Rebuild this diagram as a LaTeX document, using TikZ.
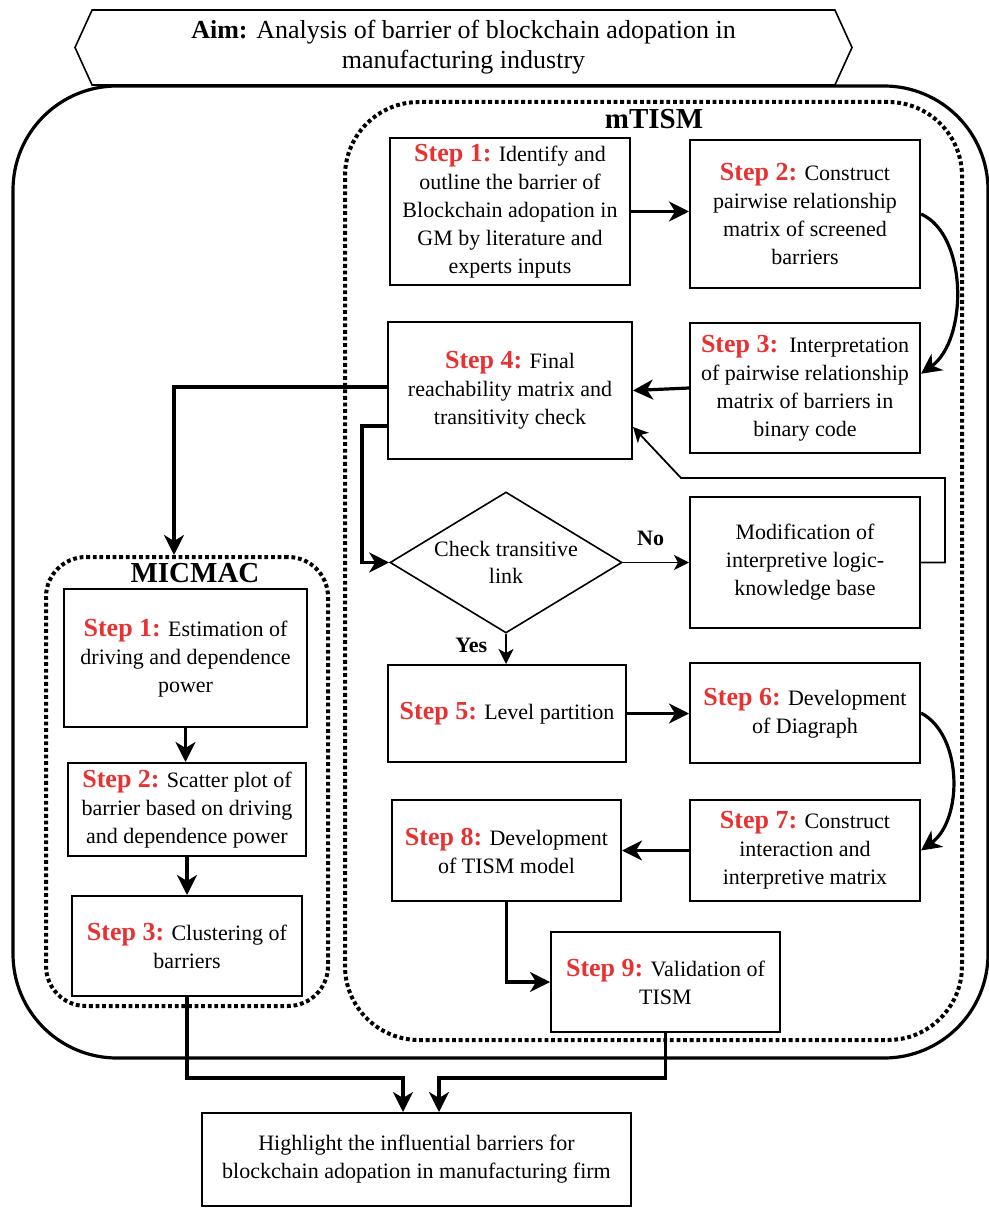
\documentclass[tikz,border=0pt]{standalone}
\usepackage{fontspec}
\setmainfont{Liberation Serif}
\usepackage{xcolor}
\usetikzlibrary{arrows.meta,calc,shapes.geometric,shapes.symbols}
\definecolor{stepred}{RGB}{232,50,50}
\tikzset{
  stepbox/.style={draw, line width=1pt, fill=white, align=center, inner sep=2pt,
    font=\fontsize{11}{14}\selectfont},
  checkbox/.style={diamond, draw, line width=0.8pt, fill=white, align=center,
    inner sep=0pt, aspect=1.65, font=\fontsize{11}{13.5}\selectfont},
  aimbox/.style={signal, signal to=west and east, signal pointer angle=131, draw,
    line width=0.8pt, fill=white, align=center, font=\fontsize{13}{15}\selectfont},
  groupframe/.style={draw, line width=2pt, dash pattern=on 1.9pt off 1.4pt},
  grouptitle/.style={font=\fontsize{14.5}{16}\selectfont\bfseries},
  outerframe/.style={line width=1.6pt, rounded corners=52pt},
  flow/.style={-{Stealth[length=10pt,width=10pt,inset=3pt]}, line width=1.6pt},
  thinflow/.style={-{Stealth[length=7.5pt,width=7.5pt,inset=2pt]}, line width=0.9pt},
  lbl/.style={font=\fontsize{11}{13}\selectfont\bfseries, inner sep=1pt}
}
\newcommand{\stepno}[1]{\textcolor{stepred}{\fontsize{13}{14}\selectfont\textbf{Step #1:}}}

\begin{document}
\begin{tikzpicture}[x=0.5pt, y=-0.5pt]
\useasboundingbox (0,0) rectangle (989,1209);

% frames
\draw[outerframe] (13,86) rectangle (988,1058);
\node[aimbox, minimum width=388.5pt, minimum height=37.5pt] (aim) at (463.5,47.5)
  {\textbf{Aim:} Analysis of barrier of blockchain adopation in\\ manufacturing industry};
\node[groupframe, rounded corners=37pt, minimum width=308.5pt, minimum height=469pt] (mtism) at (653.5,571) {};
\node[grouptitle] at (654,119) {mTISM};
\node[groupframe, rounded corners=20pt, minimum width=141pt, minimum height=224.5pt] (micmac) at (187,781.5) {};
\node[grouptitle] at (195,573) {MICMAC};

% mTISM steps
\node[stepbox, minimum width=120pt, minimum height=73.5pt] (s1) at (510,211.5)
  {\stepno{1} Identify and\\ outline the barrier of\\ Blockchain adopation in\\ GM by literature and\\ experts inputs};
\node[stepbox, minimum width=115pt, minimum height=74pt] (s2) at (805,214)
  {\stepno{2} Construct\\ pairwise relationship\\ matrix of screened\\ barriers};
\node[stepbox, minimum width=115pt, minimum height=65pt] (s3) at (805,388)
  {\stepno{3}\ \ Interpretation\\ of pairwise relationship\\ matrix of barriers in\\ binary code};
\node[stepbox, minimum width=122pt, minimum height=68.5pt] (s4) at (510,390.5)
  {\stepno{4} Final\\ reachability matrix and\\ transitivity check};
\node[checkbox, minimum width=116pt, minimum height=70.5pt] (chk) at (506,562.5)
  {Check transitive\\ link};
\node[stepbox, minimum width=115pt, minimum height=65.5pt] (mod) at (805,562.5)
  {Modification of\\ interpretive logic-\\ knowledge base};
\node[stepbox, minimum width=119pt, minimum height=48.5pt] (s5) at (507,713.5)
  {\stepno{5} Level partition};
\node[stepbox, minimum width=115pt, minimum height=50pt] (s6) at (805,713)
  {\stepno{6} Development\\ of Diagraph};
\node[stepbox, minimum width=115pt, minimum height=50.5pt] (s7) at (805,850.5)
  {\stepno{7} Construct\\ interaction and\\ interpretive matrix};
\node[stepbox, minimum width=114.5pt, minimum height=50.5pt] (s8) at (506.5,850.5)
  {\stepno{8} Development\\ of TISM model};
\node[stepbox, minimum width=114.5pt, minimum height=50pt] (s9) at (665.5,982)
  {\stepno{9} Validation of\\ TISM};

% MICMAC steps
\node[stepbox, minimum width=121.5pt, minimum height=69pt] (m1) at (185.5,658)
  {\stepno{1} Estimation of\\ driving and dependence\\ power};
\node[stepbox, minimum width=119pt, minimum height=46.5pt] (m2) at (187,809.5)
  {\stepno{2} Scatter plot of\\ barrier based on driving\\ and dependence power};
\node[stepbox, minimum width=115pt, minimum height=50pt] (m3) at (187,946)
  {\stepno{3} Clustering of\\ barriers};

% result
\node[stepbox, minimum width=214.5pt, minimum height=46.5pt] (final) at (416.5,1159.5)
  {Highlight the influential barriers for\\ blockchain adopation in manufacturing firm};
\coordinate (fbk) at (681,478);

% connectors
\draw[flow] (s1.east) -- (s1.east -| s2.west);
\draw[flow] (s2.east) .. controls (968,235) and (968,340) .. (s3.7);
\draw[flow] (s3.west) -- (s4.east);
\draw[flow] ([yshift=1.75pt]s4.west) -| ([xshift=-6.5pt]micmac.north);
\draw[flow] ([yshift=-17.75pt]s4.west) -- ++(-25,0) |- (chk.west);
\draw[thinflow] (chk.east) -- (mod.west) node[lbl, pos=0.42, above=7pt] {No};
\draw[thinflow] (mod.east) -- ++(24,0) |- (fbk) -- ([yshift=-18.25pt]s4.east);
\draw[thinflow] (chk.south) -- (chk.south |- s5.north) node[lbl, pos=0.4, left=8pt] {Yes};
\draw[flow] (s5.east) -- (s5.east -| s6.west);
\draw[flow] (s6.east) .. controls (963,735) and (963,820) .. (s7.east);
\draw[flow] (s7.west) -- (s8.east);
\draw[flow] (s8.south) |- (s9.west);
\draw[flow] (m1.south) -- (m1.south |- m2.north);
\draw[flow] (m2.south) -- (m2.south |- m3.north);
\draw[flow] (m3.south) -- ++(0,81) -| ([xshift=-6.75pt]final.north);
\draw[flow] (s9.south) -- ++(0,45) -| ([xshift=11.25pt]final.north);
\end{tikzpicture}
\end{document}
